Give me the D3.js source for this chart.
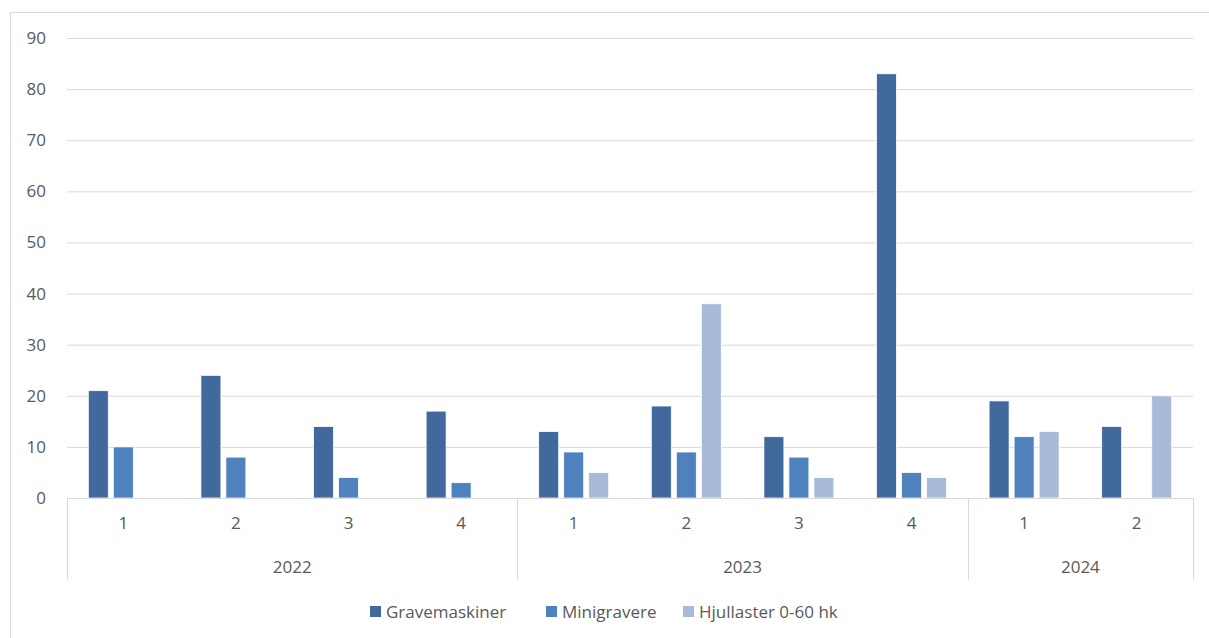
<!DOCTYPE html>
<html>
<head>
<meta charset="utf-8">
<script src="https://cdn.jsdelivr.net/npm/d3@7"></script>
<style>
  body { margin: 0; background: #fff; }
  text { font-family: "Open Sans", "Noto Sans", sans-serif; fill: #595959; }
</style>
</head>
<body>
<div id="chart"></div>
<script>
// data
var years = ["2022", "2023", "2024"];
var quarters = [
  ["2022", "1"], ["2022", "2"], ["2022", "3"], ["2022", "4"],
  ["2023", "1"], ["2023", "2"], ["2023", "3"], ["2023", "4"],
  ["2024", "1"], ["2024", "2"]
];
var seriesNames = ["Gravemaskiner", "Minigravere", "Hjullaster 0-60 hk"];
var gravemaskiner = [21, 24, 14, 17, 13, 18, 12, 83, 19, 14];
var minigravere = [10, 8, 4, 3, 9, 9, 8, 5, 12, 0];
var hjullaster = [0, 0, 0, 0, 5, 38, 4, 4, 13, 20];
var yTicks = [0, 10, 20, 30, 40, 50, 60, 70, 80, 90];
var colors = ["#41699b", "#4f81bd", "#a9bad8"];

var svgWidth = 1209;
var svgHeight = 638;
var margin = { top: 38, right: 16, bottom: 140, left: 67 };
var width = svgWidth - margin.left - margin.right;
var height = svgHeight - margin.top - margin.bottom;

var svg = d3.select("#chart")
  .append("svg")
  .attr("width", svgWidth)
  .attr("height", svgHeight);

// outer chart frame
svg.append("rect")
  .attr("x", 10.5)
  .attr("y", 12.5)
  .attr("width", svgWidth)
  .attr("height", svgHeight)
  .attr("fill", "none")
  .attr("stroke", "#d9d9d9");

var chartGroup = svg.append("g")
  .attr("transform", `translate(${margin.left}, ${margin.top})`);

var keys = quarters.map(function(d, i) { return i; });

var x0 = d3.scaleBand()
  .domain(keys)
  .range([0, width]);

var x1 = d3.scaleBand()
  .domain(seriesNames)
  .range([-37.5, 37.5])
  .paddingInner(0.2)
  .paddingOuter(0.1);

var yScale = d3.scaleLinear()
  .domain([0, 90])
  .range([height, 0]);

// gridlines + y labels
var yAxis = d3.axisLeft(yScale)
  .tickValues(yTicks)
  .tickSize(-width)
  .tickPadding(21);

var yG = chartGroup.append("g").call(yAxis);
yG.select(".domain").remove();
yG.selectAll(".tick line").attr("stroke", "#d9d9d9").attr("stroke-width", 1);
yG.selectAll(".tick text").attr("font-size", "17px").attr("fill", "#595959");

// bars
var series = [gravemaskiner, minigravere, hjullaster];
var barData = [];
keys.forEach(function(k) {
  seriesNames.forEach(function(name, s) {
    if (series[s][k] > 0) barData.push({ k: k, name: name, s: s, value: series[s][k] });
  });
});

chartGroup.selectAll("rect.bar")
  .data(barData)
  .enter()
  .append("rect")
  .attr("class", "bar")
  .attr("x", d => x0(d.k) + x0.bandwidth() / 2 + x1(d.name))
  .attr("y", d => yScale(d.value))
  .attr("width", x1.bandwidth())
  .attr("height", d => height - yScale(d.value))
  .attr("fill", d => colors[d.s])
  .attr("stroke", "#ffffff")
  .attr("stroke-width", 0.8);

// category axis
chartGroup.append("line")
  .attr("x1", 0).attr("x2", width)
  .attr("y1", height + 0.5).attr("y2", height + 0.5)
  .attr("stroke", "#d9d9d9");

var yearGroups = years.map(function(yr) {
  var idx = keys.filter(k => quarters[k][0] === yr);
  return {
    year: yr,
    start: x0(idx[0]),
    end: x0(idx[idx.length - 1]) + x0.bandwidth()
  };
});

var bounds = [0].concat(yearGroups.map(g => g.end));
chartGroup.selectAll("line.sep")
  .data(bounds)
  .enter()
  .append("line")
  .attr("class", "sep")
  .attr("x1", d => Math.round(d) + 0.5)
  .attr("x2", d => Math.round(d) + 0.5)
  .attr("y1", height)
  .attr("y2", height + 82)
  .attr("stroke", "#d9d9d9");

chartGroup.selectAll("text.q")
  .data(keys)
  .enter()
  .append("text")
  .attr("class", "q")
  .attr("x", d => x0(d) + x0.bandwidth() / 2)
  .attr("y", height + 31)
  .attr("text-anchor", "middle")
  .attr("font-size", "17px")
  .text(d => quarters[d][1]);

chartGroup.selectAll("text.yr")
  .data(yearGroups)
  .enter()
  .append("text")
  .attr("class", "yr")
  .attr("x", d => (d.start + d.end) / 2)
  .attr("y", height + 75)
  .attr("text-anchor", "middle")
  .attr("font-size", "17px")
  .text(d => d.year);

// legend
var legendX = [370, 546, 683];
var legend = svg.selectAll("g.legend")
  .data(seriesNames)
  .enter()
  .append("g")
  .attr("class", "legend")
  .attr("transform", (d, i) => `translate(${legendX[i]}, 612)`);

legend.append("rect")
  .attr("x", 0)
  .attr("y", -6)
  .attr("width", 11)
  .attr("height", 11)
  .attr("fill", (d, i) => colors[i]);

legend.append("text")
  .attr("x", 16)
  .attr("y", 6)
  .attr("font-size", "17px")
  .text(d => d);
</script>
</body>
</html>
